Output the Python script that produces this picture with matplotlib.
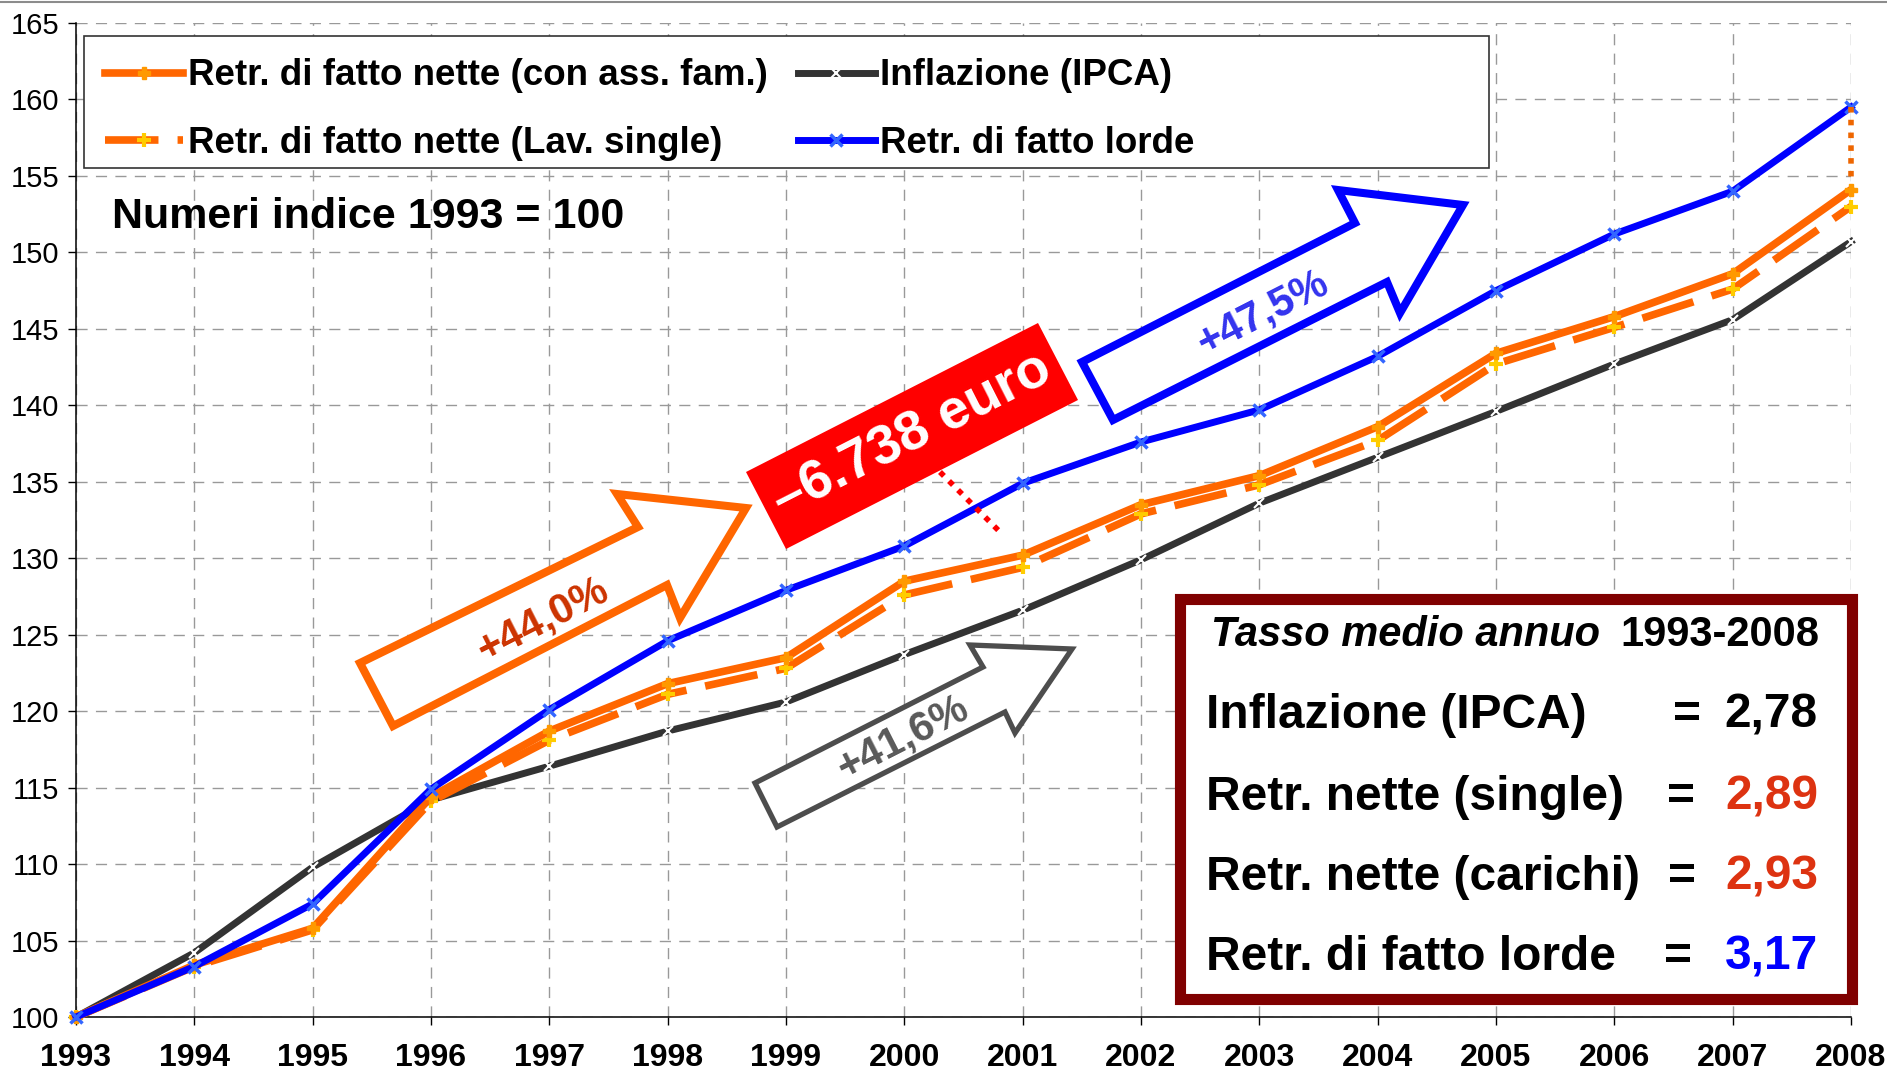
import matplotlib
matplotlib.use("Agg")
import matplotlib.pyplot as plt
from matplotlib.patches import Polygon, Rectangle

plt.rcParams['font.family'] = ['Liberation Sans', 'DejaVu Sans']

# ─── Data (numeri indice 1993 = 100) ─────────────────────────────────────────
years = list(range(1993, 2009))
nette_fam = [100.0, 103.4, 105.8, 114.4, 118.7, 121.8, 123.5, 128.5, 130.2,
             133.5, 135.4, 138.6, 143.4, 145.8, 148.6, 154.1]
nette_single = [100.0, 103.3, 105.7, 114.1, 118.1, 121.1, 122.8, 127.6, 129.4,
                132.9, 134.8, 137.7, 142.7, 145.1, 147.6, 153.0]
inflazione = [100.0, 104.2, 109.8, 114.2, 116.4, 118.7, 120.6, 123.7, 126.6,
              129.9, 133.6, 136.6, 139.6, 142.7, 145.6, 150.7]
lorde = [100.0, 103.3, 107.4, 114.9, 120.1, 124.6, 127.9, 130.8, 134.9,
         137.6, 139.7, 143.2, 147.5, 151.2, 154.0, 159.5]

labels = ["Retr. di fatto nette (con ass. fam.)",
          "Retr. di fatto nette (Lav. single)",
          "Inflazione (IPCA)",
          "Retr. di fatto lorde"]

# tasso medio annuo 1993-2008
box_rows = ["Inflazione (IPCA)", "Retr. nette (single)",
            "Retr. nette (carichi)", "Retr. di fatto lorde"]
box_vals = ["2,78", "2,89", "2,93", "3,17"]
box_cols = ["black", "#DD3311", "#DD3311", "#0000FF"]

pct_labels = ["+44,0%", "+41,6%", "+47,5%"]
delta_label = "\u20136.738 euro"

W, H = 1887, 1077
fig = plt.figure(figsize=(W / 100, H / 100), dpi=100)
ax = fig.add_axes([76 / W, 1 - 1017 / H, (1851 - 76) / W, (1017 - 23) / H])

# ─── Series ──────────────────────────────────────────────────────────────────
l_inf, = ax.plot(years, inflazione, color="#333333", lw=5, marker="x",
                 ms=7, mec="white", mew=1.5, zorder=3, clip_on=False)
l_sing, = ax.plot(years, nette_single, color="#FF6600", lw=5.5, ls=(0, (7, 2.5)),
                  marker="+", ms=10, mec="#FFCC00", mew=3, zorder=4, clip_on=False)
l_fam, = ax.plot(years, nette_fam, color="#FF6600", lw=5.5, marker="P", ms=9,
                 mfc="#FF9900", mec="#FF9900", zorder=5, clip_on=False)
l_lor, = ax.plot(years, lorde, color="#0000FF", lw=5, marker="x", ms=9,
                 mec="#3366FF", mew=2.5, zorder=6, clip_on=False)

# gap at 2008 between lorde and nette
ax.plot([years[-1], years[-1]], [lorde[-1], nette_fam[-1] + 0.6],
        color="#EE6600", lw=4, ls=(0, (1, 1.3)), zorder=7, clip_on=False)

ax.set_xlim(1993, 2008)
ax.set_ylim(100, 165)
ax.set_xticks(years)
ax.set_yticks(range(100, 166, 5))
ax.grid(True, color="#999999", lw=1, ls=(0, (8, 6)))
ax.set_axisbelow(True)
for s in ["top", "right"]:
    ax.spines[s].set_visible(False)
for s in ["left", "bottom"]:
    ax.spines[s].set_linewidth(1.1)
ax.tick_params(axis="y", length=6, width=1, pad=6, labelsize=21)
ax.tick_params(axis="x", length=6, width=1, pad=13, labelsize=23)
for t in ax.get_xticklabels():
    t.set_fontweight("bold")

# ─── Legend ──────────────────────────────────────────────────────────────────
ax.add_patch(Rectangle((84 / W, 1 - 168 / H), (1489 - 84) / W, 132 / H,
                       transform=fig.transFigure, fc="white", ec="#333333",
                       lw=1.2, zorder=8))
leg = ax.legend([l_fam, l_sing, l_inf, l_lor], labels, ncol=2,
                loc="upper left", bbox_to_anchor=(76 / W, 1 - 29 / H),
                bbox_transform=fig.transFigure, frameon=False,
                prop={"weight": "bold", "size": 26.5}, handlelength=2.1,
                handletextpad=0.15, columnspacing=0.8, labelspacing=0.88,
                borderpad=0.3)
leg.set_zorder(9)

# ─── Overlay (pixel coordinates) ─────────────────────────────────────────────
ov = fig.add_axes([0, 0, 1, 1], zorder=10)
ov.set_xlim(0, W)
ov.set_ylim(H, 0)
ov.axis("off")
ov.patch.set_alpha(0)

ov.plot([0, W], [1.5, 1.5], color="#8C8C8C", lw=1.5)

ov.text(112, 217, "Numeri indice 1993 = 100", fontsize=31, fontweight="bold",
        ha="left", va="center")

arrows = [
    ([(360, 663), (638, 527), (617, 494), (746, 508), (680, 618),
      (667, 585), (393, 726)], "#FF6600", 5.8, (543, 620), "#CC3300"),
    ([(755, 783), (983, 667), (970, 645), (1072, 649), (1015, 733),
      (1005, 712), (777, 827)], "#4D4D4D", 3.8, (903, 738), "#595959"),
    ([(1082, 362), (1355, 223), (1338, 190), (1463, 205), (1400, 313),
      (1387, 282), (1113, 420)], "#0000FF", 5.8, (1263, 313), "#3333EE"),
]
for (pts, ec, lw, c, tc), lab in zip(arrows, pct_labels):
    ov.add_patch(Polygon(pts, closed=True, fc="white", ec=ec, lw=lw,
                         joinstyle="miter"))
    ov.text(c[0], c[1], lab, color=tc, fontsize=30, fontweight="bold",
            rotation=27, ha="center", va="center", rotation_mode="anchor")

# red delta box
ov.plot([940, 1003], [472, 535], color="#FF0000", lw=4, ls=(0, (1, 1.3)))
ov.add_patch(Polygon([(746, 472), (1038, 323), (1078, 400), (786, 549)],
                     closed=True, fc="#FF0000", ec="none"))
ov.text(912, 436, delta_label, color="white", fontsize=40, fontweight="bold",
        rotation=27, ha="center", va="center", rotation_mode="anchor")

# tasso medio annuo box
ov.add_patch(Rectangle((1179.5, 598.5), 672, 400, fc="white", ec="#800000",
                       lw=8))
ov.text(1211, 635, "Tasso medio annuo", fontsize=30, fontweight="bold",
        fontstyle="italic", ha="left", va="center")
ov.text(1819, 635, "1993-2008", fontsize=30, fontweight="bold",
        ha="right", va="center")
row_y = [715, 797, 877, 957]
eq_x = [1687, 1681, 1682, 1678]
for y, ex, lab, v, c in zip(row_y, eq_x, box_rows, box_vals, box_cols):
    ov.text(1206, y, lab, fontsize=34.5, fontweight="bold", ha="left", va="center")
    ov.text(ex, y, "=", fontsize=34.5, fontweight="bold", ha="center", va="center")
    ov.text(1818, y, v, fontsize=34.5, fontweight="bold", color=c,
            ha="right", va="center")

fig.savefig("out.png", dpi=100)
